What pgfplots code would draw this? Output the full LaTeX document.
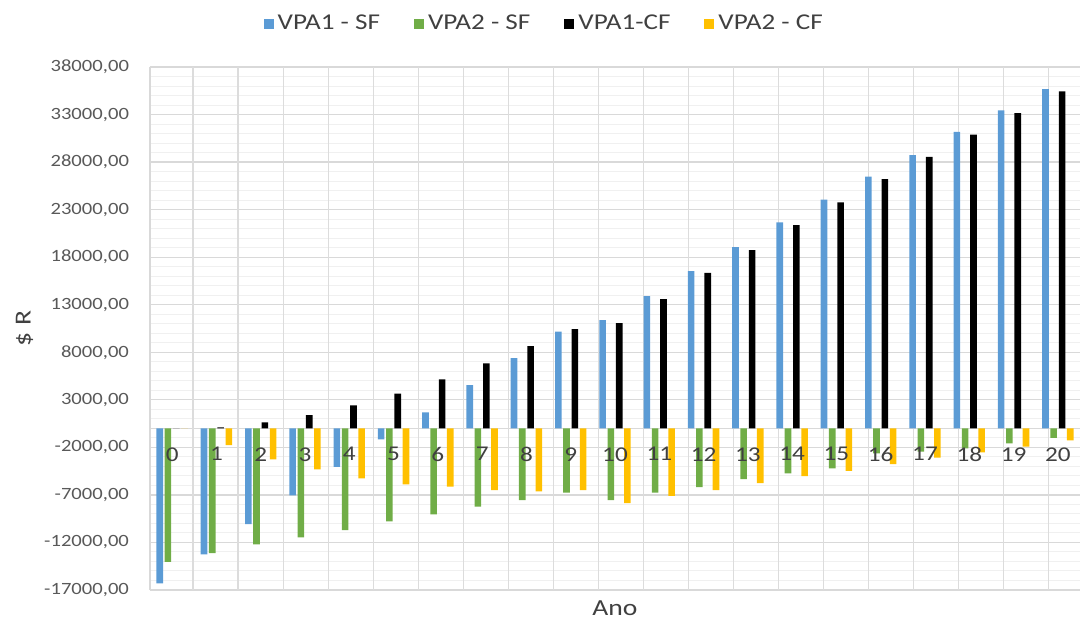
\documentclass[border=0pt]{standalone}
\usepackage{fontspec}
\setmainfont[FakeStretch=1.2]{Carlito}
\usepackage{pgfplots}
\pgfplotsset{compat=1.18}
\definecolor{cblue}{HTML}{5B9BD5}
\definecolor{cgreen}{HTML}{70AD47}
\definecolor{cyellow}{HTML}{FFC000}
\definecolor{gridgray}{HTML}{D9D9D9}
\definecolor{colgray}{HTML}{DCDCDC}
\definecolor{faintgray}{HTML}{F0F0F0}
\definecolor{ticktext}{HTML}{595959}
\definecolor{labeltext}{HTML}{404040}
\pgfplotsset{
  common/.style={
    at={(0,0)}, anchor=south west,
    scale only axis, width=465pt, height=261.5pt,
    xmin=-0.5, xmax=20.5, ymin=-17000, ymax=38000,
    major tick length=0pt, minor tick length=0pt,
  },
}
\begin{document}
\begin{tikzpicture}
\begin{axis}[
  common,
  scaled y ticks=false,
  ybar, bar width=3.3pt,
  axis x line*=middle, axis y line*=left,
  axis line style={draw=gridgray, line width=0.6pt},
  xtick={0,1,2,3,4,5,6,7,8,9,10,11,12,13,14,15,16,17,18,19,20},
  xticklabels={},
  ytick={-17000,-12000,-7000,-2000,3000,8000,13000,18000,23000,28000,33000,38000},
  yticklabels={{-17000,00},{-12000,00},{-7000,00},{-2000,00},{3000,00},{8000,00},{13000,00},{18000,00},{23000,00},{28000,00},{33000,00},{38000,00}},
  minor y tick num=4,
  ymajorgrids=true, yminorgrids=true, xmajorgrids=false,
  major grid style={draw=gridgray, line width=0.6pt},
  minor grid style={draw=faintgray, line width=0.5pt},
  extra x ticks={0.472,1.489,2.506,3.523,4.54,5.557,6.574,7.591,8.608,9.625,10.642,11.659,12.676,13.693,14.71,15.727,16.744,17.761,18.778,19.795},
  extra x tick labels={},
  extra x tick style={xmajorgrids=true, major grid style={draw=colgray, line width=0.6pt}},
  yticklabel style={font=\fontsize{8.6}{10}\selectfont, text=ticktext, xshift=-7pt},
  xlabel={Ano},
  xlabel style={at={(axis description cs:0.5,0)}, anchor=north, yshift=-2pt, font=\fontsize{11.5}{13}\selectfont, text=labeltext},
  ylabel={\$ R},
  ylabel style={at={(axis description cs:-0.135,0.5)}, anchor=center, font=\fontsize{11.5}{13}\selectfont, text=labeltext},
  legend columns=4,
  legend style={at={(0.425,1.082)}, anchor=center, draw=none, fill=none,
    font=\fontsize{11.3}{13}\selectfont, text=labeltext,
    /tikz/every even column/.append style={column sep=15pt}},
  legend image code/.code={\fill[#1, draw=none] (0pt,-2.5pt) rectangle (5pt,2.5pt);},
]
\addplot[fill=cblue, draw=none, bar shift=-6.2pt] coordinates {
(0,-16300) (1,-13250) (2,-10060) (3,-7050) (4,-4040) (5,-1160) (6,1680) (7,4550) (8,7390) (9,10160) (10,11390)
(11,13910) (12,16540) (13,19070) (14,21660) (15,24040) (16,26460) (17,28740) (18,31190) (19,33440) (20,35680)};
\addplot[fill=cgreen, draw=none, bar shift=-2.1pt] coordinates {
(0,-14030) (1,-13110) (2,-12200) (3,-11460) (4,-10700) (5,-9780) (6,-9040) (7,-8240) (8,-7540) (9,-6770) (10,-7540)
(11,-6770) (12,-6170) (13,-5350) (14,-4730) (15,-4210) (16,-2630) (17,-2460) (18,-2100) (19,-1580) (20,-990)};
\addplot[fill=black, draw=none, bar shift=2.1pt] coordinates {
(0,0) (1,100) (2,630) (3,1400) (4,2420) (5,3640) (6,5150) (7,6830) (8,8650) (9,10440) (10,11070)
(11,13600) (12,16340) (13,18750) (14,21380) (15,23770) (16,26220) (17,28560) (18,30880) (19,33160) (20,35440)};
\addplot[fill=cyellow, draw=none, bar shift=6.2pt] coordinates {
(0,0) (1,-1760) (2,-3260) (3,-4310) (4,-5260) (5,-5890) (6,-6140) (7,-6490) (8,-6630) (9,-6490) (10,-7860)
(11,-7090) (12,-6490) (13,-5750) (14,-5020) (15,-4460) (16,-3750) (17,-3090) (18,-2520) (19,-1930) (20,-1260)};
\legend{VPA1 - SF, VPA2 - SF, VPA1-CF, VPA2 - CF}
\end{axis}
% overlay axis: category labels drawn on top of the bars
\begin{axis}[
  common,
  axis x line*=middle, axis y line=none,
  axis line style={draw=none},
  ytick=\empty,
  xtick={0,1,2,3,4,5,6,7,8,9,10,11,12,13,14,15,16,17,18,19,20},
  xticklabels={0,1,2,3,4,5,6,7,8,9,10,11,12,13,14,15,16,17,18,19,20},
  xticklabel style={font=\fontsize{10.5}{12}\selectfont, text=labeltext, yshift=-6pt},
]
\end{axis}
\pgfresetboundingbox
\path[use as bounding box] (-75pt,-15pt) rectangle (470.5pt,295pt);
\end{tikzpicture}
\end{document}
